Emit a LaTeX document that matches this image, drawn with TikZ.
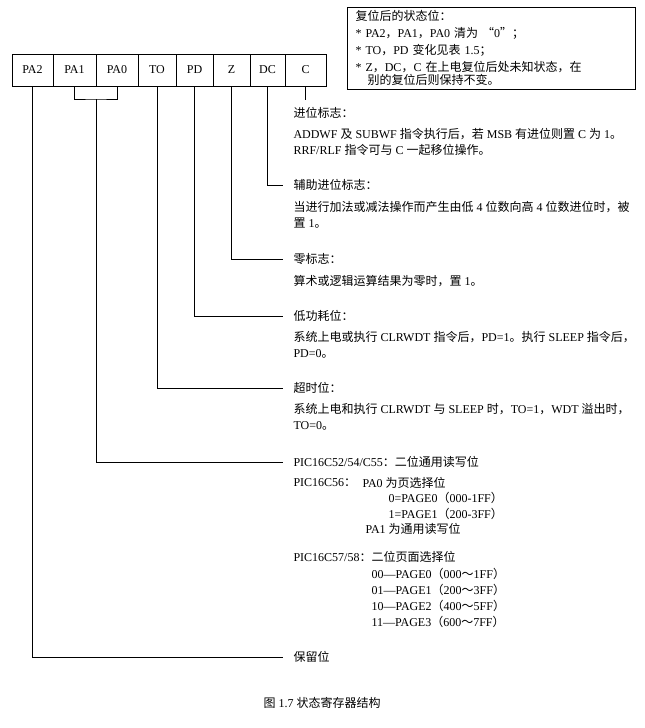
\documentclass[tikz,border=0pt]{standalone}
\usepackage{fontspec}
\setmainfont{Liberation Serif}
\newfontfamily\cjk{Noto Sans CJK SC}
\newcommand{\zh}[1]{{\cjk #1}}
\begin{document}
\begin{tikzpicture}[x=1pt, y=-1pt, line width=1pt, font=\fontsize{12}{16}\selectfont,
  field/.style={draw, minimum height=32pt, inner sep=0pt},
  lbl/.style={anchor=west, inner xsep=10pt, inner ysep=0pt},
  txt/.style={anchor=north west, inner xsep=10pt, inner ysep=0pt, align=left},
  sub/.style={anchor=west, inner sep=0pt}]
  \useasboundingbox (0,0) rectangle (645,728);
  % reset note
  \node[draw, anchor=north west, minimum width=288pt, minimum height=79pt, inner xsep=8pt,
    text width=272pt, align=left, font=\fontsize{12}{17}\selectfont] (reset) at (347,7)
    {\zh{复位后的状态位：}\\
     {*} PA2\zh{，}PA1\zh{，}PA0 \zh{清为 “}0\zh{”；}\\
     {*} TO\zh{，}PD \zh{变化见表} 1.5\zh{；}\\
     {*} Z\zh{，}DC\zh{，}C \zh{在上电复位后处未知状态，在}\\[-4pt]
     \hspace*{12pt}\zh{别的复位后则保持不变。}};
  % register fields
  \foreach \name/\bit/\xl/\xr in {pa2/PA2/12/53, pa1/PA1/53/96, pa0/PA0/96/138, to/TO/138/176,
      pd/PD/176/213, z/Z/213/250, dc/DC/250/285, c/C/285/326}
    \node[field, minimum width=\xr-\xl] (f-\name) at ({(\xl+\xr)/2},70) {\bit};
  % labels
  \node[lbl] (carry) at (283,113) {\zh{进位标志：}};
  \node[txt] (carrytxt) at (283,127.5) {ADDWF \zh{及} SUBWF \zh{指令执行后，若} MSB \zh{有进位则置} C \zh{为} 1\zh{。}\\
    RRF/RLF \zh{指令可与} C \zh{一起移位操作。}};
  \node[lbl] (aux) at (283,185) {\zh{辅助进位标志：}};
  \node[txt] (auxtxt) at (283,200.5) {\zh{当进行加法或减法操作而产生由低} 4 \zh{位数向高} 4 \zh{位数进位时，被}\\
    \zh{置} 1\zh{。}};
  \node[lbl] (zero) at (283,259) {\zh{零标志：}};
  \node[txt] (zerotxt) at (283,274.5) {\zh{算术或逻辑运算结果为零时，置} 1\zh{。}};
  \node[lbl] (pdlbl) at (283,316) {\zh{低功耗位：}};
  \node[txt] (pdtxt) at (283,330.5) {\zh{系统上电或执行} CLRWDT \zh{指令后，}PD=1\zh{。执行} SLEEP \zh{指令后，}\\
    PD=0\zh{。}};
  \node[lbl] (tolbl) at (283,388) {\zh{超时位：}};
  \node[txt] (totxt) at (283,402.5) {\zh{系统上电和执行} CLRWDT \zh{与} SLEEP \zh{时，}TO=1\zh{，}WDT \zh{溢出时，}\\
    TO=0\zh{。}};
  \node[lbl] (c52) at (283,462) {PIC16C52/54/C55\zh{：二位通用读写位}};
  \node[sub] (c56) at (293,483) {PIC16C56\zh{：}};
  \node[sub] (c56a) at (362,483) {PA0 \zh{为页选择位}};
  \node[sub] (c56b) at (388,498) {0=PAGE0\zh{（}000-1FF\zh{）}};
  \node[sub] (c56c) at (388,514) {1=PAGE1\zh{（}200-3FF\zh{）}};
  \node[sub] (c56d) at (365,529) {PA1 \zh{为通用读写位}};
  \node[sub] (c57) at (293,557) {PIC16C57/58\zh{：二位页面选择位}};
  \foreach \i/\pg/\lo/\hi [count=\k] in {00/0/000/1FF, 01/1/200/3FF, 10/2/400/5FF, 11/3/600/7FF}
    \node[sub] (c57-\k) at (371,{558.5+15.75*\k}) {\i---PAGE\pg\zh{（}\lo\zh{～}\hi\zh{）}};
  \node[lbl] (resv) at (283,657) {\zh{保留位}};
  \node (caption) at (322,703) {\zh{图} 1.7 \zh{状态寄存器结构}};
  % connectors
  \coordinate (cend) at ([yshift=-13pt]f-c.south);
  \coordinate (join) at (96,99);
  \draw (f-c.south) -- (cend);
  \draw (f-dc.south) |- (aux.west);
  \draw (f-z.south) |- (zero.west);
  \draw (f-pd.south) |- (pdlbl.west);
  \draw (f-to.south) |- (tolbl.west);
  \draw (f-pa1.south) |- (join) -| (f-pa0.south);
  \draw (join) |- (c52.west);
  \draw (f-pa2.south) |- (resv.west);
\end{tikzpicture}
\end{document}
